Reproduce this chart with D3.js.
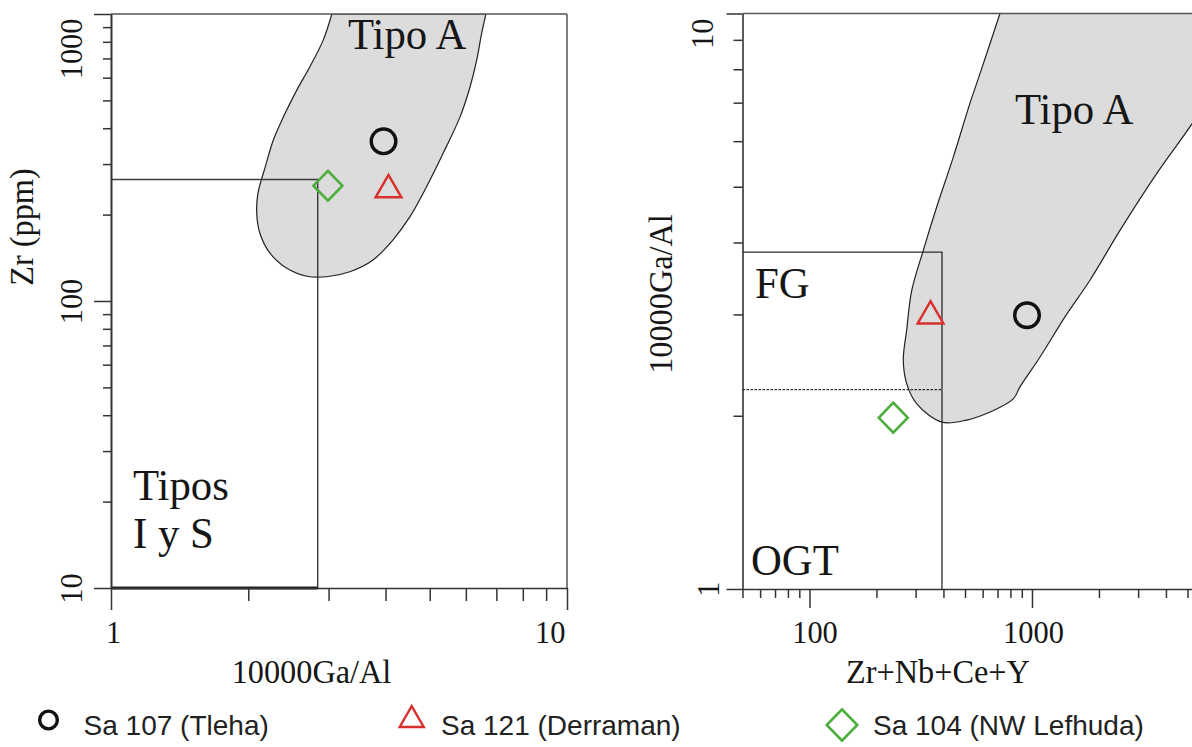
<!DOCTYPE html>
<html><head><meta charset="utf-8">
<script src="https://cdn.jsdelivr.net/npm/d3@7"></script>
<style>
body{margin:0;background:#fff;}
svg{display:block;}
.serif{font-family:"Liberation Serif","Times New Roman",serif;fill:#161616;}
.sans{font-family:"Liberation Sans",Arial,sans-serif;fill:#222;}
</style></head><body>
<svg id="chart" width="1192" height="747"></svg>
<script>
// ---------------- data ----------------
const leftXTicksMajor = [1, 10];
const leftXTicksMinor = [2, 3, 4, 5, 6, 7, 8, 9];
const leftYTicksMajor = [10, 100, 1000];
const leftYTicksMinor = [20, 30, 40, 50, 60, 70, 80, 90, 200, 300, 400, 500, 600, 700, 800, 900];
const rightXTicksMajor = [100, 1000];
const rightXTicksMinor = [50, 60, 70, 80, 90, 200, 300, 400, 500, 600, 700, 800, 900, 2000, 3000, 4000, 5000, 6000, 7000, 8000, 9000];
const rightYTicksMajor = [1, 10];
const rightYTicksMinor = [2, 3, 4, 5, 6, 7, 8, 9];

const samples = ["Sa 107 (Tleha)", "Sa 121 (Derraman)", "Sa 104 (NW Lefhuda)"];
const sampleShapes = ["circle", "triangle", "diamond"];
const sampleColors = ["#111111", "#d8312d", "#4dae3d"];
// left diagram: 10000Ga/Al vs Zr (ppm)
const leftGaAl = [3.96, 4.06, 2.99];
const leftZr = [360, 244, 252];
// right diagram: Zr+Nb+Ce+Y vs 10000Ga/Al
const rightZrNbCeY = [950, 350, 238];
const rightGaAl = [2.99, 2.98, 1.985];

// field outlines (data coordinates)
const leftFieldA = [[3.05,1000],[2.92,811],[2.73,655],[2.555,543],[2.39,439],[2.27,364],[2.18,294],[2.10,237],[2.087,203],[2.12,172.6],[2.23,147],[2.43,130],[2.69,122],[2.97,121.5],[3.34,126.5],[3.755,139],[4.15,163],[4.525,196.7],[4.92,250],[5.35,327],[5.83,439],[6.13,558],[6.34,692],[6.50,857],[6.64,1000]];
const leftISBox = [[1,265],[2.84,265],[2.84,10],[1,10]];
const rightFieldA = [[718,10],[584,7.86],[526,6.98],[443,5.63],[373,4.61],[325,3.88],[288,3.30],[273.5,2.82],[264,2.50],[273.5,2.275],[303,2.10],[393,1.95],[509,1.966],[648,2.03],[824,2.14],[883,2.245],[1087,2.53],[1407,2.97],[1822,3.44],[2486,4.20],[3634,5.27],[5236,6.43],[8606,8.63],[11740,10]];
const rightFGBox = [[50,3.85],[394,3.85],[394,1]];
const rightFGDivider = [[50,2.22],[394,2.22]];

// ---------------- drawing ----------------
const svg = d3.select("#chart");
const ink = "#333";

const lx = d3.scaleLog().domain([1, 10]).range([111, 567]);
const ly = d3.scaleLog().domain([10, 1000]).range([588, 14]);
const rx = d3.scaleLog().domain([50, 10000]).range([742.5, 742.5 + Math.log10(200) * 222.5]);
const ry = d3.scaleLog().domain([1, 10]).range([589, 13.5]);

const defs = svg.append("defs");
defs.append("clipPath").attr("id","clipL").append("rect")
  .attr("x", lx(1)).attr("y", ly(1000)).attr("width", lx(10)-lx(1)).attr("height", ly(10)-ly(1000));
defs.append("clipPath").attr("id","clipR").append("rect")
  .attr("x", rx(50)).attr("y", ry(10)).attr("width", 1192-rx(50)).attr("height", ry(1)-ry(10));

function fieldPath(pts, sx, sy){
  return d3.line().x(d=>sx(d[0])).y(d=>sy(d[1])).curve(d3.curveCatmullRom.alpha(0.5))(pts) + "Z";
}

// gray fields
svg.append("path").attr("d", fieldPath(leftFieldA, lx, ly)).attr("clip-path","url(#clipL)")
  .attr("fill","#dcdcdc").attr("stroke","#222").attr("stroke-width",1.2);
svg.append("path").attr("d", fieldPath(rightFieldA, rx, ry)).attr("clip-path","url(#clipR)")
  .attr("fill","#dcdcdc").attr("stroke","#222").attr("stroke-width",1.2);

// boundary boxes
const straight = (sx, sy) => d3.line().x(d=>sx(d[0])).y(d=>sy(d[1]));
svg.append("path").attr("d", straight(lx, ly)(leftISBox)).attr("fill","none").attr("stroke","#3a3a3a").attr("stroke-width",1.4);
svg.append("line").attr("x1", lx(1)).attr("x2", lx(2.84)).attr("y1", ly(10)).attr("y2", ly(10)).attr("stroke","#222").attr("stroke-width",3);
svg.append("path").attr("d", straight(rx, ry)(rightFGBox)).attr("fill","none").attr("stroke","#2a2a2a").attr("stroke-width",1.3);
svg.append("path").attr("d", straight(rx, ry)(rightFGDivider)).attr("fill","none").attr("stroke","#2a2a2a").attr("stroke-width",1.2).attr("stroke-dasharray","2.5,1.5");

// frames
svg.append("line").attr("x1", lx(1)).attr("x2", lx(10)).attr("y1", ly(1000)).attr("y2", ly(1000)).attr("stroke","#555").attr("stroke-width",1.5);
svg.append("line").attr("x1", lx(10)).attr("x2", lx(10)).attr("y1", ly(1000)).attr("y2", ly(10)).attr("stroke","#555").attr("stroke-width",1.5);
svg.append("line").attr("x1", rx(50)).attr("x2", 1192).attr("y1", ry(10)).attr("y2", ry(10)).attr("stroke","#555").attr("stroke-width",1.5);

function styleAxis(g){
  g.attr("color", ink).attr("font-family", null).attr("font-size", null);
  g.selectAll("line").attr("stroke-width", 1.5);
  g.select(".domain").attr("stroke-width", 1.6);
}
function styleLabels(g, size){
  g.selectAll("text").attr("class","serif").attr("fill", null).style("font-size", size + "px");
}

// left x axis
const lxMin = svg.append("g").attr("transform", `translate(0,${ly(10)})`)
  .call(d3.axisBottom(lx).tickValues(leftXTicksMinor).tickSize(13).tickSizeOuter(0).tickFormat(""));
lxMin.select(".domain").remove(); styleAxis(lxMin);
const lxMaj = svg.append("g").attr("transform", `translate(0,${ly(10)})`)
  .call(d3.axisBottom(lx).tickValues(leftXTicksMajor).tickSize(22).tickSizeOuter(0).tickFormat(d3.format("d")));
styleAxis(lxMaj); styleLabels(lxMaj, 32);
lxMaj.selectAll("text").attr("dy", null).attr("y", 55)
  .attr("text-anchor", d => d === 10 ? "end" : "middle").attr("x", d => d === 10 ? -2 : 2);

// left y axis
const lyMin = svg.append("g").attr("transform", `translate(${lx(1)},0)`)
  .call(d3.axisLeft(ly).tickValues(leftYTicksMinor).tickSize(8).tickSizeOuter(0).tickFormat(""));
lyMin.select(".domain").remove(); styleAxis(lyMin);
const lyMaj = svg.append("g").attr("transform", `translate(${lx(1)},0)`)
  .call(d3.axisLeft(ly).tickValues(leftYTicksMajor).tickSize(17).tickSizeOuter(0).tickFormat(d3.format("d")));
styleAxis(lyMaj); styleLabels(lyMaj, 32);
lyMaj.selectAll("text").attr("x", null).attr("dy", null)
  .attr("text-anchor", d => d === 1000 ? "end" : "middle")
  .attr("transform", d => d === 1000 ? "translate(-29,4) rotate(-90)" : "translate(-29,0) rotate(-90)");
lyMaj.select(".domain").attr("stroke-width", 2);

// right x axis
const rxMin = svg.append("g").attr("transform", `translate(0,${ry(1)})`)
  .call(d3.axisBottom(rx).tickValues(rightXTicksMinor).tickSize(9).tickSizeOuter(0).tickFormat(""));
rxMin.select(".domain").remove(); styleAxis(rxMin);
const rxMaj = svg.append("g").attr("transform", `translate(0,${ry(1)})`)
  .call(d3.axisBottom(rx).tickValues(rightXTicksMajor).tickSize(19).tickSizeOuter(0).tickFormat(d3.format("d")));
styleAxis(rxMaj); styleLabels(rxMaj, 32);
rxMaj.selectAll("text").attr("dy", null).attr("y", 54).attr("x", d => d === 100 ? 5 : 1);

// right y axis
const ryMin = svg.append("g").attr("transform", `translate(${rx(50)},0)`)
  .call(d3.axisLeft(ry).tickValues(rightYTicksMinor).tickSize(9).tickSizeOuter(0).tickFormat(""));
ryMin.select(".domain").remove(); styleAxis(ryMin);
const ryMaj = svg.append("g").attr("transform", `translate(${rx(50)},0)`)
  .call(d3.axisLeft(ry).tickValues(rightYTicksMajor).tickSize(16).tickSizeOuter(0).tickFormat(d3.format("d")));
styleAxis(ryMaj); styleLabels(ryMaj, 32);
ryMaj.selectAll("text").attr("x", null).attr("dy", null)
  .attr("text-anchor", d => d === 10 ? "end" : "middle")
  .attr("transform", d => d === 10 ? "translate(-30,4.5) rotate(-90)" : "translate(-24,0) rotate(-90)");

// axis titles
svg.append("text").attr("class","serif").style("font-size","34px").attr("text-anchor","middle")
  .attr("x", 311.5).attr("y", 683).text("10000Ga/Al");
svg.append("text").attr("class","serif").style("font-size","34px").attr("text-anchor","middle")
  .attr("transform","translate(33,227) rotate(-90)").text("Zr (ppm)");
svg.append("text").attr("class","serif").style("font-size","34px").attr("text-anchor","middle")
  .attr("x", 938).attr("y", 683).text("Zr+Nb+Ce+Y");
svg.append("text").attr("class","serif").style("font-size","34px").attr("text-anchor","middle")
  .attr("transform","translate(672,294) rotate(-90)").text("10000Ga/Al");

// field labels
const fl = (x, y, t) => svg.append("text").attr("class","serif").style("font-size","45px").attr("x", x).attr("y", y).text(t);
fl(348, 49, "Tipo A");
fl(133, 500, "Tipos");
fl(133, 548, "I y S");
fl(1015, 124, "Tipo A");
fl(755, 298, "FG");
fl(751, 575, "OGT");

// markers
function marker(g, shape, color, x, y, scale){
  if (shape === "circle") {
    g.append("circle").attr("cx", x).attr("cy", y).attr("r", 12.3*scale)
      .attr("fill","none").attr("stroke", color).attr("stroke-width", 3.4);
  } else if (shape === "triangle") {
    g.append("path").attr("d", d3.symbol(d3.symbolTriangle, 290*scale*scale)())
      .attr("transform", `translate(${x},${y})`)
      .attr("fill","none").attr("stroke", color).attr("stroke-width", 2.4);
  } else {
    g.append("path").attr("d", d3.symbol(d3.symbolSquare, 420*scale*scale)())
      .attr("transform", `translate(${x},${y}) scale(1,1.03) rotate(45)`)
      .attr("fill","none").attr("stroke", color).attr("stroke-width", 2.6);
  }
}
const mL = svg.append("g");
samples.forEach((s, i) => marker(mL, sampleShapes[i], sampleColors[i], lx(leftGaAl[i]), ly(leftZr[i]), 1));
const mR = svg.append("g");
samples.forEach((s, i) => marker(mR, sampleShapes[i], sampleColors[i], rx(rightZrNbCeY[i]), ry(rightGaAl[i]), 1));

// legend
const legendMarkX = [48.5, 411.7, 842];
const legendTextX = [83.6, 441, 873];
const legendMarkScale = [0.72, 0.93, 1.05];
const lg = svg.append("g");
samples.forEach((s, i) => {
  marker(lg, sampleShapes[i], sampleColors[i], legendMarkX[i], i === 2 ? 725 : 720, legendMarkScale[i]);
  lg.append("text").attr("class","sans").style("font-size","28px").attr("x", legendTextX[i]).attr("y", 735).text(s);
});

// slightly condensed serif type, as in the original figure
svg.selectAll("text.serif").each(function(){
  const L = this.getComputedTextLength();
  this.setAttribute("textLength", L * 0.95);
  this.setAttribute("lengthAdjust", "spacingAndGlyphs");
});
</script>
</body></html>
